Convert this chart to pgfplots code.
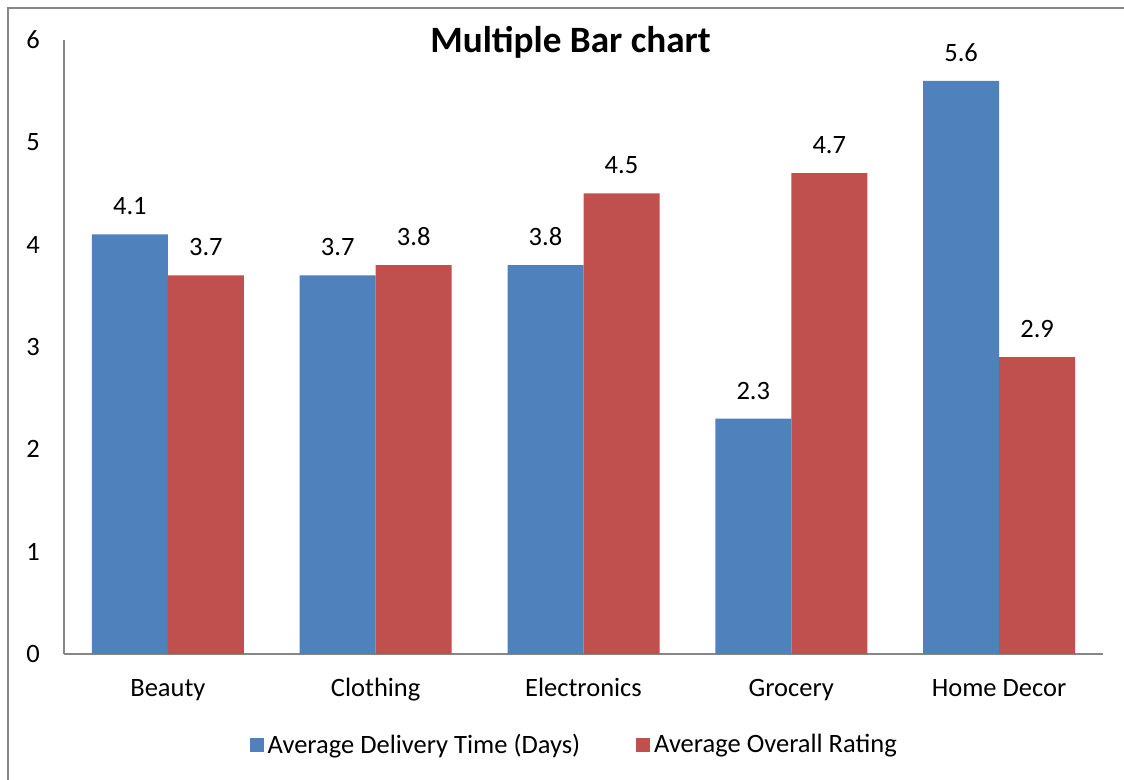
\documentclass[border=0pt]{standalone}
\usepackage{pgfplots}
\pgfplotsset{compat=1.18}
\usepackage{fontspec}
\setmainfont{Carlito}
\definecolor{xblue}{HTML}{4F81BD}
\definecolor{xred}{HTML}{C0504D}
\definecolor{xgray}{HTML}{868686}
\begin{document}
\begin{tikzpicture}
\useasboundingbox (0,0) rectangle (562pt,390pt);
\fill[white] (0,0) rectangle (562pt,390pt);
\draw[xgray, line width=1.1pt] (4pt,0) -- (4pt,386pt) -- (562pt,386pt);
\begin{axis}[
  at={(32pt,63pt)}, anchor=south west,
  scale only axis, width=519.5pt, height=307pt,
  ybar=0pt, bar width=38pt,
  xmin=-0.5, xmax=4.5, ymin=0, ymax=6,
  xtick={0,1,2,3,4},
  xticklabels={Beauty,Clothing,Electronics,Grocery,Home Decor},
  ytick={0,1,2,3,4,5,6},
  major tick length=0pt,
  axis x line=bottom, axis y line=left,
  axis line style={-, xgray, line width=0.75pt},
  /pgf/number format/assume math mode=true,
  tick label style={font=\fontsize{13.25pt}{15pt}\selectfont, text=black},
  xticklabel style={anchor=base, yshift=-21.5pt},
  yticklabel style={anchor=center, xshift=-15.5pt},
  nodes near coords,
  nodes near coords style={font=\fontsize{13.25pt}{15pt}\selectfont, anchor=base, yshift=9.8pt, /pgf/number format/fixed, /pgf/number format/precision=1, /pgf/number format/fixed zerofill},
  title={Multiple Bar chart},
  title style={font=\bfseries\fontsize{18.6pt}{22pt}\selectfont, at={(0.4875,1)}, anchor=base, yshift=-12.5pt},
  legend style={at={(0.492,-0.148)}, anchor=center, draw=none, fill=none,
    legend columns=2, font=\fontsize{13.25pt}{15pt}\selectfont,
    /tikz/every even column/.append style={column sep=26pt}},
  legend image code/.code={\fill[#1] (-1pt,-3.5pt) rectangle (6pt,3.5pt);},
  clip=false,
]
\addplot[draw=none, fill=xblue] coordinates {(0,4.1) (1,3.7) (2,3.8) (3,2.3) (4,5.6)};
\addplot[draw=none, fill=xred] coordinates {(0,3.7) (1,3.8) (2,4.5) (3,4.7) (4,2.9)};
\legend{Average Delivery Time (Days), Average Overall Rating}
\end{axis}
\end{tikzpicture}
\end{document}
